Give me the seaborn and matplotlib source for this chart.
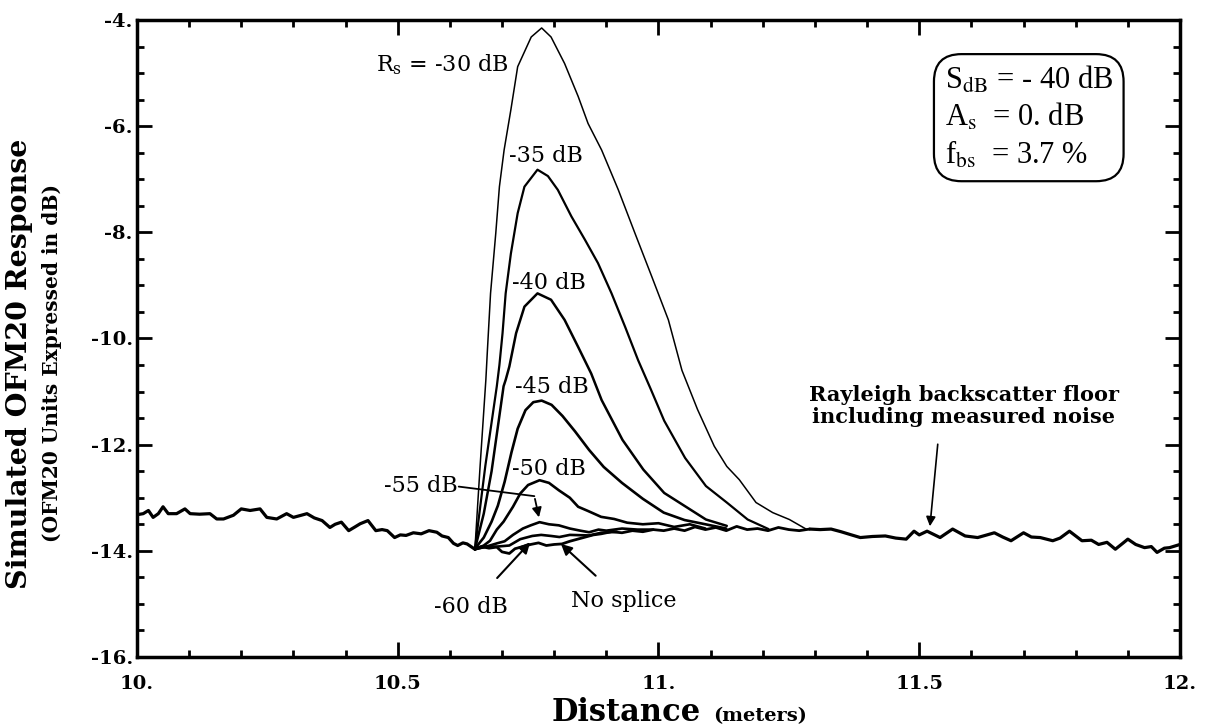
import matplotlib
matplotlib.use("Agg")
import matplotlib.pyplot as plt
import seaborn as sns
import pandas as pd
from matplotlib.ticker import MultipleLocator

# ---------------- data ----------------
floor_pre_x = [10.0, 10.012, 10.022, 10.031, 10.041, 10.05, 10.06, 10.076, 10.092, 10.102,
               10.12, 10.14, 10.153, 10.166, 10.185, 10.2, 10.217, 10.236, 10.249, 10.268,
               10.287, 10.30, 10.315, 10.326, 10.34, 10.355, 10.37, 10.38, 10.392, 10.406,
               10.418, 10.428, 10.443, 10.458, 10.47, 10.48, 10.494, 10.505, 10.516, 10.53,
               10.545, 10.56, 10.575, 10.585, 10.597, 10.607, 10.615, 10.625, 10.633, 10.648]
floor_pre_y = [-13.32, -13.30, -13.24, -13.37, -13.30, -13.17, -13.30, -13.30, -13.21, -13.30,
               -13.31, -13.30, -13.40, -13.40, -13.33, -13.21, -13.24, -13.21, -13.37, -13.40,
               -13.30, -13.37, -13.33, -13.30, -13.38, -13.43, -13.56, -13.50, -13.46, -13.62,
               -13.55, -13.49, -13.43, -13.62, -13.60, -13.62, -13.75, -13.70, -13.71, -13.66,
               -13.68, -13.62, -13.65, -13.72, -13.75, -13.86, -13.90, -13.85, -13.87, -13.97]

nosplice_x = [10.648, 10.66, 10.675, 10.69, 10.70, 10.714, 10.725, 10.74, 10.755, 10.77,
              10.785, 10.80, 10.815, 10.83, 10.845, 10.86, 10.875, 10.89, 10.91, 10.93,
              10.95, 10.97, 10.99, 11.01, 11.03, 11.05, 11.07, 11.09, 11.11, 11.13,
              11.15, 11.17, 11.19, 11.21, 11.23, 11.25, 11.27, 11.29]
nosplice_y = [-13.97, -13.92, -13.95, -13.93, -14.02, -14.05, -13.96, -13.92, -13.88, -13.85,
              -13.90, -13.88, -13.87, -13.82, -13.78, -13.74, -13.70, -13.68, -13.64, -13.66,
              -13.62, -13.64, -13.60, -13.62, -13.58, -13.62, -13.55, -13.60, -13.56, -13.62,
              -13.54, -13.60, -13.58, -13.62, -13.56, -13.60, -13.62, -13.59]

floor_post_x = [11.29, 11.31, 11.331, 11.35, 11.37, 11.387, 11.41, 11.435, 11.455, 11.475,
                11.49, 11.50, 11.515, 11.54, 11.564, 11.588, 11.612, 11.63, 11.644, 11.66,
                11.676, 11.70, 11.715, 11.732, 11.756, 11.77, 11.788, 11.80, 11.812, 11.83,
                11.844, 11.86, 11.876, 11.89, 11.90, 11.915, 11.932, 11.945, 11.956, 11.97,
                11.98, 12.0]
floor_post_y = [-13.59, -13.60, -13.59, -13.64, -13.70, -13.75, -13.73, -13.72, -13.76, -13.78,
                -13.63, -13.70, -13.63, -13.75, -13.59, -13.72, -13.75, -13.70, -13.66, -13.74,
                -13.81, -13.66, -13.74, -13.75, -13.81, -13.76, -13.63, -13.72, -13.81, -13.80,
                -13.88, -13.84, -13.97, -13.86, -13.78, -13.88, -13.94, -13.92, -14.03, -13.95,
                -13.94, -13.88]

rs30_x = [10.648, 10.658, 10.669, 10.672, 10.678, 10.688, 10.695, 10.704, 10.717, 10.73,
          10.756, 10.776, 10.794, 10.82, 10.846, 10.865, 10.891, 10.923, 10.955, 10.987,
          11.019, 11.045, 11.075, 11.107, 11.131, 11.155, 11.187, 11.219, 11.251, 11.283]
rs30_y = [-13.97, -12.4, -10.78, -10.22, -9.15, -8.02, -7.14, -6.45, -5.69, -4.88,
          -4.32, -4.15, -4.32, -4.82, -5.44, -5.95, -6.45, -7.2, -8.02, -8.83,
          -9.65, -10.6, -11.34, -12.03, -12.41, -12.66, -13.09, -13.28, -13.41, -13.59]

rs35_x = [10.648, 10.668, 10.69, 10.695, 10.701, 10.707, 10.717, 10.73, 10.743, 10.768,
          10.788, 10.807, 10.833, 10.859, 10.884, 10.91, 10.936, 10.961, 10.985, 11.011,
          11.051, 11.091, 11.131, 11.171, 11.211]
rs35_y = [-13.97, -12.4, -10.9, -10.5, -9.9, -9.15, -8.4, -7.64, -7.14, -6.82,
          -6.94, -7.2, -7.7, -8.14, -8.58, -9.15, -9.78, -10.41, -10.95, -11.55,
          -12.25, -12.78, -13.09, -13.41, -13.59]

rs40_x = [10.648, 10.665, 10.68, 10.703, 10.707, 10.714, 10.727, 10.743, 10.768, 10.794,
          10.82, 10.846, 10.871, 10.891, 10.931, 10.971, 11.011, 11.051, 11.091, 11.131]
rs40_y = [-13.97, -13.3, -12.5, -10.9, -10.78, -10.53, -9.9, -9.4, -9.15, -9.27,
          -9.65, -10.16, -10.66, -11.16, -11.91, -12.47, -12.91, -13.16, -13.41, -13.53]

rs45_x = [10.648, 10.665, 10.68, 10.692, 10.705, 10.718, 10.73, 10.745, 10.76, 10.776,
          10.795, 10.816, 10.84, 10.867, 10.895, 10.93, 10.97, 11.01, 11.05, 11.09, 11.13]
rs45_y = [-13.96, -13.75, -13.45, -13.15, -12.7, -12.15, -11.7, -11.35, -11.2, -11.17,
          -11.25, -11.46, -11.75, -12.1, -12.42, -12.72, -13.02, -13.28, -13.42, -13.5, -13.58]

rs50_x = [10.648, 10.665, 10.677, 10.69, 10.703, 10.721, 10.735, 10.75, 10.772, 10.79,
          10.809, 10.83, 10.846, 10.865, 10.89, 10.915, 10.94, 10.97, 11.0, 11.03, 11.06, 11.09]
rs50_y = [-13.97, -13.9, -13.81, -13.6, -13.45, -13.17, -12.92, -12.76, -12.67, -12.72,
          -12.86, -13.0, -13.17, -13.25, -13.36, -13.4, -13.47, -13.5, -13.48, -13.55, -13.5, -13.58]

rs55_x = [10.648, 10.67, 10.69, 10.705, 10.721, 10.74, 10.755, 10.772, 10.79, 10.809,
          10.83, 10.85, 10.867, 10.885, 10.9, 10.93, 10.96, 10.99]
rs55_y = [-13.97, -13.92, -13.86, -13.82, -13.7, -13.58, -13.52, -13.46, -13.5, -13.52,
          -13.58, -13.62, -13.65, -13.6, -13.62, -13.58, -13.6, -13.6]

rs60_x = [10.648, 10.67, 10.69, 10.714, 10.735, 10.758, 10.775, 10.794, 10.81, 10.83,
          10.867, 10.89, 10.92]
rs60_y = [-13.97, -13.92, -13.92, -13.9, -13.78, -13.72, -13.7, -13.72, -13.74, -13.7,
          -13.71, -13.66, -13.64]

x_ticks = [10.0, 10.5, 11.0, 11.5, 12.0]
x_tick_labels = ["10.", "10.5", "11.", "11.5", "12."]
y_ticks = [-16, -14, -12, -10, -8, -6, -4]
y_tick_labels = ["-16.", "-14.", "-12.", "-10.", "-8.", "-6.", "-4."]

# ---------------- style ----------------
sns.set_theme(style="ticks")
plt.rcParams["font.family"] = ["DejaVu Serif"]
plt.rcParams["mathtext.fontset"] = "dejavuserif"
for key in ["text.color", "axes.labelcolor", "xtick.color", "ytick.color", "axes.edgecolor"]:
    plt.rcParams[key] = "black"

fig = plt.figure(figsize=(12.13, 7.27), dpi=100)
ax = fig.add_axes([0.1129, 0.0963, 0.8599, 0.8762])

lw = 1.9
series = [
    (floor_pre_x, floor_pre_y, 2.3),
    (nosplice_x, nosplice_y, 2.0),
    (floor_post_x, floor_post_y, 2.3),
    (rs30_x, rs30_y, 1.1),
    (rs35_x, rs35_y, 1.6),
    (rs40_x, rs40_y, 1.8),
    (rs45_x, rs45_y, lw),
    (rs50_x, rs50_y, lw),
    (rs55_x, rs55_y, lw),
    (rs60_x, rs60_y, lw),
]
for xs, ys, w in series:
    df = pd.DataFrame({"x": xs, "y": ys})
    sns.lineplot(data=df, x="x", y="y", ax=ax, color="black", linewidth=w,
                 sort=False, estimator=None)

ax.set_xlim(10, 12)
ax.set_ylim(-16, -4)
ax.set_xticks(x_ticks)
ax.set_xticklabels(x_tick_labels)
ax.set_yticks(y_ticks)
ax.set_yticklabels(y_tick_labels)
ax.xaxis.set_minor_locator(MultipleLocator(0.1))
ax.yaxis.set_minor_locator(MultipleLocator(0.5))
ax.tick_params(which="both", direction="in", top=True, right=True, width=2, labelsize=14,
               colors="black")
ax.tick_params(which="major", length=11)
ax.tick_params(which="minor", length=5)
ax.tick_params(axis="x", which="major", pad=13)
ax.tick_params(axis="y", which="major", pad=3)
for lab in ax.get_xticklabels() + ax.get_yticklabels():
    lab.set_fontweight("bold")
for sp in ax.spines.values():
    sp.set_linewidth(2.5)
    sp.set_color("black")
ax.set_xlabel("")
ax.set_ylabel("")

# axis titles
fig.text(0.016, 0.50, "Simulated OFM20 Response", rotation=90, ha="center", va="center",
         fontsize=20.5, fontweight="bold")
fig.text(0.043, 0.50, "(OFM20 Units Expressed in dB)", rotation=90, ha="center", va="center",
         fontsize=14.5, fontweight="bold")
fig.text(0.578, 0.008, "Distance", ha="right", va="baseline", fontsize=22, fontweight="bold")
fig.text(0.588, 0.008, "(meters)", ha="left", va="baseline", fontsize=14, fontweight="bold")

# curve labels
fs = 16
ax.text(10.712, -4.85, r"R$_{\rm s}$ = -30 dB", ha="right", va="center", fontsize=fs)
ax.text(10.785, -6.57, "-35 dB", ha="center", va="center", fontsize=fs)
ax.text(10.79, -8.96, "-40 dB", ha="center", va="center", fontsize=fs)
ax.text(10.796, -10.92, "-45 dB", ha="center", va="center", fontsize=fs)
ax.text(10.79, -12.46, "-50 dB", ha="center", va="center", fontsize=fs)
ax.text(10.545, -12.78, "-55 dB", ha="center", va="center", fontsize=fs)
ax.plot([10.617, 10.762], [-12.79, -12.97], color="black", lw=1.3)
ax.annotate("", xy=(10.772, -13.42), xytext=(10.762, -12.97),
            arrowprops=dict(arrowstyle="-|>", color="black", lw=1.3, mutation_scale=14))
ax.annotate("-60 dB", xy=(10.754, -13.84), xytext=(10.64, -15.05), ha="center", va="center",
            fontsize=fs,
            arrowprops=dict(arrowstyle="-|>", color="black", lw=1.5, mutation_scale=16,
                            shrinkA=14, shrinkB=0))
ax.annotate("No splice", xy=(10.813, -13.87), xytext=(10.933, -14.95), ha="center", va="center",
            fontsize=fs,
            arrowprops=dict(arrowstyle="-|>", color="black", lw=1.5, mutation_scale=16,
                            shrinkA=12, shrinkB=0))
ax.text(11.585, -11.27, "Rayleigh backscatter floor\nincluding measured noise", ha="center",
        va="center", fontsize=15, fontweight="bold", linespacing=1.15)
ax.annotate("", xy=(11.52, -13.59), xytext=(11.536, -11.94),
            arrowprops=dict(arrowstyle="-|>", color="black", lw=1.2, mutation_scale=14))

ax.text(11.71, -5.84,
        "S$_{\\rm dB}$ = - 40 dB\nA$_{\\rm s}$  = 0. dB\nf$_{\\rm bs}$  = 3.7 %",
        ha="center", va="center", multialignment="left", fontsize=22, linespacing=1.25,
        family="Liberation Serif", math_fontfamily="stix",
        bbox=dict(boxstyle="round,pad=0.35,rounding_size=0.9", fc="white", ec="black", lw=1.6))

fig.savefig("out.png", dpi=100)
